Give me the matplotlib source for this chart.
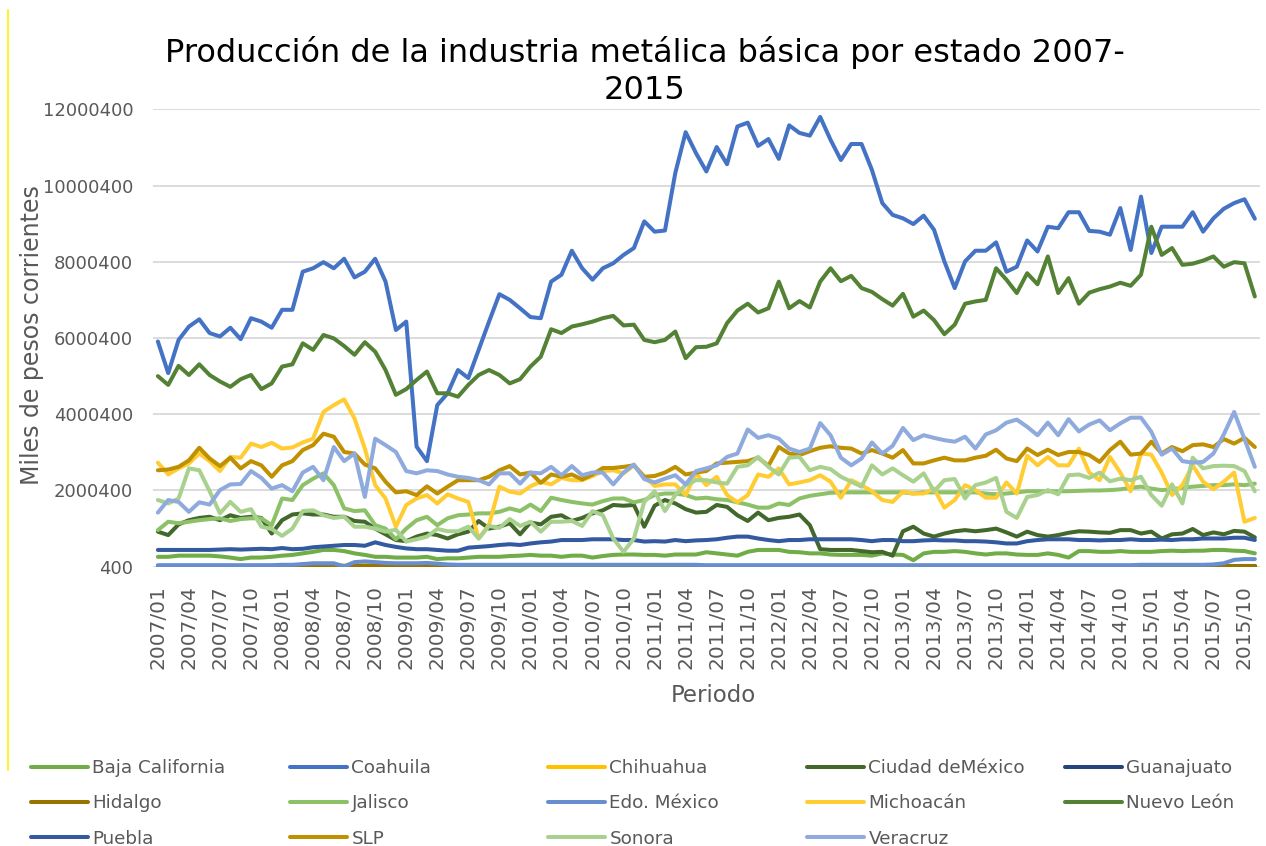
import numpy as np
import matplotlib
matplotlib.use("Agg")
import matplotlib.pyplot as plt
from matplotlib.lines import Line2D

# periods 2007/01 .. 2015/11 (107 months)
periodos = ["%d/%02d" % (2007 + k // 12, k % 12 + 1) for k in range(107)]

# values in millions of "miles de pesos corrientes"
baja_california = [
    0.26, 0.26, 0.29, 0.29, 0.29, 0.29, 0.27, 0.24, 0.20, 0.24, 0.24, 0.26, 0.29, 0.31, 0.35, 0.39, 0.44, 0.44, 0.41, 0.35, 0.31, 0.26, 0.26, 0.24, 0.24, 0.24, 0.26,
    0.20, 0.22, 0.22, 0.24, 0.26, 0.26, 0.26, 0.28, 0.29, 0.31, 0.29, 0.29, 0.26, 0.29, 0.29, 0.24, 0.28, 0.31, 0.32, 0.32, 0.31, 0.31, 0.29, 0.32, 0.32, 0.32,
    0.38, 0.35, 0.32, 0.29, 0.39, 0.44, 0.44, 0.44, 0.39, 0.38, 0.35, 0.35, 0.32, 0.31, 0.31, 0.31, 0.29, 0.35, 0.32, 0.31, 0.17, 0.35, 0.39, 0.39, 0.41, 0.39, 0.35,
    0.32, 0.35, 0.35, 0.32, 0.31, 0.31, 0.35, 0.31, 0.24, 0.41, 0.41, 0.39, 0.39, 0.41, 0.39, 0.39, 0.39, 0.41, 0.42, 0.41, 0.42, 0.42, 0.44, 0.44, 0.42, 0.41, 0.35]
coahuila = [
    5.91, 5.08, 5.95, 6.30, 6.49, 6.13, 6.04, 6.27, 5.97, 6.52, 6.43, 6.27, 6.74, 6.74, 7.74, 7.83, 7.99, 7.83, 8.08, 7.59, 7.74, 8.08, 7.48, 6.21, 6.43, 3.15, 2.77,
    4.24, 4.55, 5.16, 4.95, 5.69, 6.43, 7.15, 7.00, 6.78, 6.55, 6.52, 7.48, 7.66, 8.29, 7.83, 7.53, 7.83, 7.96, 8.18, 8.36, 9.06, 8.79, 8.82, 10.33, 11.40, 10.85,
    10.37, 11.01, 10.56, 11.55, 11.65, 11.04, 11.22, 10.70, 11.58, 11.38, 11.31, 11.80, 11.20, 10.67, 11.09, 11.09, 10.41, 9.54, 9.23, 9.14, 8.99, 9.21, 8.84, 8.01, 7.31, 8.01, 8.29, 8.29,
    8.51, 7.74, 7.87, 8.56, 8.27, 8.92, 8.88, 9.30, 9.30, 8.81, 8.79, 8.71, 9.41, 8.31, 9.71, 8.23, 8.92, 8.92, 8.92, 9.30, 8.79, 9.14, 9.39, 9.54, 9.64, 9.13]
chihuahua = [
    0.01, 0.01, 0.01, 0.01, 0.01, 0.01, 0.01, 0.01, 0.01, 0.01, 0.01, 0.01, 0.02, 0.02, 0.03, 0.03, 0.04, 0.04, 0.03, 0.04, 0.04, 0.05, 0.04, 0.04, 0.04, 0.04, 0.04,
    0.03, 0.03, 0.02, 0.02, 0.01, 0.01, 0.01, 0.01, 0.01, 0.01, 0.01, 0.01, 0.01, 0.01, 0.01, 0.01, 0.01, 0.01, 0.01, 0.01, 0.01, 0.01, 0.01, 0.01, 0.01, 0.01,
    0.01, 0.01, 0.01, 0.01, 0.01, 0.01, 0.01, 0.01, 0.01, 0.01, 0.01, 0.01, 0.01, 0.01, 0.01, 0.01, 0.01, 0.01, 0.01, 0.01, 0.01, 0.01, 0.01, 0.01, 0.01, 0.01, 0.01,
    0.01, 0.01, 0.01, 0.01, 0.01, 0.01, 0.01, 0.01, 0.01, 0.01, 0.01, 0.01, 0.01, 0.01, 0.01, np.nan, np.nan, np.nan, np.nan, np.nan, np.nan, np.nan, np.nan, np.nan, np.nan, np.nan, np.nan]
ciudad_mexico = [
    0.92, 0.83, 1.11, 1.22, 1.28, 1.31, 1.22, 1.35, 1.28, 1.31, 1.28, 0.87, 1.22, 1.37, 1.40, 1.37, 1.37, 1.31, 1.31, 1.20, 1.18, 1.00, 0.85, 0.70, 0.67, 0.79, 0.87,
    0.83, 0.74, 0.85, 0.92, 1.20, 1.00, 1.05, 1.14, 0.85, 1.16, 1.11, 1.31, 1.35, 1.20, 1.28, 1.40, 1.48, 1.62, 1.60, 1.62, 1.05, 1.60, 1.75, 1.66, 1.51, 1.42,
    1.44, 1.62, 1.57, 1.35, 1.20, 1.42, 1.22, 1.28, 1.31, 1.37, 1.09, 0.46, 0.44, 0.44, 0.44, 0.41, 0.38, 0.39, 0.29, 0.93, 1.05, 0.87, 0.79, 0.87, 0.93, 0.96, 0.93,
    0.96, 1.00, 0.90, 0.79, 0.92, 0.83, 0.79, 0.83, 0.89, 0.93, 0.92, 0.90, 0.89, 0.96, 0.96, 0.87, 0.92, 0.74, 0.85, 0.87, 0.99, 0.83, 0.90, 0.85, 0.94, 0.92, 0.77]
guanajuato = [
    0.02, 0.02, 0.02, 0.02, 0.02, 0.02, 0.02, 0.02, 0.02, 0.02, 0.02, 0.02, 0.02, 0.02, 0.02, 0.02, 0.02, 0.02, 0.02, 0.02, 0.02, 0.02, 0.02, 0.02, 0.02, 0.02, 0.02,
    0.02, 0.02, 0.02, 0.02, 0.02, 0.02, 0.02, 0.02, 0.02, 0.02, 0.02, 0.02, 0.02, 0.02, 0.02, 0.02, 0.02, 0.02, 0.02, 0.02, 0.02, 0.02, 0.02, 0.02, 0.02, 0.02,
    0.02, 0.02, 0.02, 0.02, 0.02, 0.02, 0.02, 0.02, 0.02, 0.02, 0.02, 0.02, 0.02, 0.02, 0.02, 0.02, 0.02, 0.02, 0.02, 0.02, 0.02, 0.02, 0.02, 0.02, 0.02, 0.02, 0.02,
    0.02, 0.02, 0.02, 0.02, 0.02, 0.02, 0.02, 0.02, 0.02, 0.02, 0.02, 0.02, 0.02, 0.02, 0.02, 0.02, 0.02, 0.02, 0.02, 0.02, 0.02, 0.02, 0.02, 0.02, 0.02, 0.02, 0.02]
hidalgo = [
    0.01, 0.01, 0.01, 0.01, 0.01, 0.01, 0.01, 0.01, 0.01, 0.01, 0.01, 0.01, 0.01, 0.01, 0.01, 0.01, 0.01, 0.01, 0.01, 0.01, 0.01, 0.01, 0.01, 0.01, 0.01, 0.01, 0.01,
    0.01, 0.01, 0.01, 0.01, 0.01, 0.01, 0.01, 0.01, 0.01, 0.01, 0.01, 0.01, 0.01, 0.01, 0.01, 0.01, 0.01, 0.01, 0.01, 0.01, 0.01, 0.01, 0.01, 0.01, 0.01, 0.01,
    0.01, 0.01, 0.01, 0.01, 0.01, 0.01, 0.01, 0.01, 0.01, 0.01, 0.01, 0.01, 0.01, 0.01, 0.01, 0.01, 0.01, 0.01, 0.01, 0.01, 0.01, 0.01, 0.01, 0.01, 0.01, 0.01, 0.01,
    0.01, 0.01, 0.01, 0.01, 0.01, 0.01, 0.01, 0.01, 0.01, 0.01, 0.01, 0.01, 0.01, 0.01, 0.01, 0.01, 0.01, 0.01, 0.01, 0.01, 0.01, 0.01, 0.01, 0.01, 0.01, 0.01, 0.01]
jalisco = [
    0.96, 1.18, 1.14, 1.18, 1.22, 1.25, 1.27, 1.20, 1.25, 1.27, 1.27, 1.09, 1.79, 1.75, 2.14, 2.31, 2.45, 2.14, 1.53, 1.46, 1.48, 1.09, 1.00, 0.72, 1.00, 1.22, 1.31,
    1.09, 1.27, 1.35, 1.37, 1.40, 1.40, 1.44, 1.53, 1.46, 1.63, 1.46, 1.81, 1.75, 1.70, 1.66, 1.63, 1.72, 1.79, 1.79, 1.69, 1.75, 1.88, 1.92, 1.92, 1.88, 1.79,
    1.81, 1.77, 1.75, 1.69, 1.63, 1.55, 1.55, 1.66, 1.62, 1.79, 1.86, 1.90, 1.94, 1.95, 1.95, 1.95, 1.95, 1.95, 1.95, 1.95, 1.92, 1.95, 1.95, 1.95, 1.95, 1.95, 1.95,
    1.92, 1.90, 1.92, 1.95, 1.98, 1.98, 1.98, 1.98, 1.98, 1.99, 2.00, 2.00, 2.01, 2.03, 2.07, 2.10, 2.05, 2.01, 2.03, 2.07, 2.10, 2.12, 2.14, 2.14, 2.16, 2.14, 2.18]
edo_mexico = [
    0.04, 0.04, 0.04, 0.04, 0.04, 0.04, 0.04, 0.04, 0.04, 0.04, 0.04, 0.04, 0.05, 0.05, 0.07, 0.09, 0.09, 0.09, 0.01, 0.12, 0.14, 0.12, 0.10, 0.09, 0.09, 0.09, 0.10,
    0.08, 0.06, 0.05, 0.05, 0.05, 0.05, 0.05, 0.05, 0.05, 0.05, 0.05, 0.05, 0.05, 0.05, 0.05, 0.05, 0.05, 0.05, 0.05, 0.05, 0.05, 0.05, 0.05, 0.05, 0.05, 0.05,
    0.04, 0.04, 0.04, 0.04, 0.04, 0.04, 0.04, 0.04, 0.04, 0.04, 0.04, 0.04, 0.04, 0.04, 0.04, 0.04, 0.04, 0.04, 0.04, 0.04, 0.04, 0.04, 0.04, 0.04, 0.04, 0.04, 0.04,
    0.04, 0.04, 0.04, 0.04, 0.04, 0.04, 0.04, 0.04, 0.04, 0.04, 0.04, 0.04, 0.04, 0.04, 0.04, 0.05, 0.05, 0.05, 0.05, 0.05, 0.05, 0.05, 0.06, 0.09, 0.18, 0.20, 0.20]
michoacan = [
    2.73, 2.42, 2.58, 2.71, 2.97, 2.77, 2.51, 2.88, 2.86, 3.23, 3.14, 3.25, 3.10, 3.13, 3.26, 3.36, 4.06, 4.24, 4.39, 3.89, 3.10, 2.14, 1.79, 1.05, 1.62, 1.79, 1.88,
    1.66, 1.90, 1.79, 1.70, 0.74, 1.10, 2.10, 1.97, 1.92, 2.11, 2.23, 2.16, 2.33, 2.27, 2.27, 2.38, 2.51, 2.53, 2.45, 2.66, 2.36, 2.12, 2.16, 2.16, 1.88, 2.45,
    2.14, 2.36, 1.88, 1.69, 1.88, 2.42, 2.36, 2.58, 2.16, 2.21, 2.27, 2.40, 2.23, 1.81, 2.27, 2.14, 1.98, 1.75, 1.70, 1.97, 1.92, 1.92, 2.05, 1.55, 1.75, 2.14, 2.01,
    1.81, 1.81, 2.21, 1.92, 2.91, 2.66, 2.88, 2.66, 2.66, 3.10, 2.47, 2.27, 2.88, 2.47, 1.98, 2.97, 2.94, 2.47, 1.88, 2.14, 2.66, 2.23, 2.03, 2.23, 2.47, 1.18, 1.28]
nuevo_leon = [
    5.00, 4.77, 5.27, 5.03, 5.31, 5.03, 4.86, 4.72, 4.92, 5.03, 4.66, 4.81, 5.25, 5.31, 5.86, 5.69, 6.08, 5.99, 5.79, 5.56, 5.89, 5.64, 5.16, 4.51, 4.66, 4.90, 5.12,
    4.55, 4.55, 4.46, 4.77, 5.03, 5.16, 5.03, 4.81, 4.92, 5.25, 5.51, 6.23, 6.13, 6.30, 6.36, 6.43, 6.52, 6.58, 6.33, 6.35, 5.95, 5.89, 5.95, 6.17, 5.47, 5.76,
    5.77, 5.86, 6.39, 6.72, 6.90, 6.67, 6.78, 7.48, 6.78, 6.97, 6.80, 7.48, 7.83, 7.49, 7.63, 7.31, 7.21, 7.02, 6.85, 7.16, 6.56, 6.72, 6.47, 6.10, 6.35, 6.90, 6.96, 7.00,
    7.83, 7.53, 7.18, 7.70, 7.41, 8.14, 7.18, 7.57, 6.90, 7.19, 7.28, 7.35, 7.45, 7.37, 7.66, 8.92, 8.18, 8.36, 7.92, 7.95, 8.03, 8.14, 7.87, 7.99, 7.96, 7.09]
puebla = [
    0.44, 0.44, 0.44, 0.44, 0.44, 0.44, 0.45, 0.46, 0.45, 0.46, 0.47, 0.46, 0.49, 0.46, 0.47, 0.51, 0.53, 0.55, 0.57, 0.57, 0.55, 0.64, 0.57, 0.52, 0.48, 0.46, 0.46,
    0.44, 0.42, 0.42, 0.50, 0.52, 0.54, 0.57, 0.59, 0.57, 0.61, 0.64, 0.66, 0.70, 0.70, 0.70, 0.72, 0.72, 0.72, 0.70, 0.70, 0.66, 0.67, 0.66, 0.70, 0.67, 0.69,
    0.70, 0.72, 0.76, 0.79, 0.79, 0.74, 0.70, 0.67, 0.70, 0.70, 0.72, 0.72, 0.72, 0.72, 0.72, 0.70, 0.67, 0.70, 0.70, 0.67, 0.67, 0.69, 0.70, 0.69, 0.69, 0.67, 0.67,
    0.66, 0.64, 0.61, 0.61, 0.67, 0.70, 0.72, 0.72, 0.72, 0.70, 0.70, 0.69, 0.70, 0.70, 0.72, 0.70, 0.70, 0.71, 0.70, 0.72, 0.72, 0.74, 0.74, 0.74, 0.76, 0.76, 0.70]
slp = [
    2.53, 2.55, 2.62, 2.79, 3.12, 2.84, 2.64, 2.86, 2.58, 2.77, 2.66, 2.36, 2.66, 2.77, 3.06, 3.19, 3.49, 3.41, 3.01, 2.97, 2.68, 2.58, 2.23, 1.95, 1.98, 1.88, 2.11,
    1.92, 2.10, 2.27, 2.27, 2.27, 2.36, 2.53, 2.64, 2.42, 2.47, 2.20, 2.42, 2.36, 2.42, 2.29, 2.42, 2.59, 2.59, 2.62, 2.66, 2.36, 2.38, 2.47, 2.62, 2.42, 2.47,
    2.51, 2.71, 2.73, 2.75, 2.77, 2.86, 2.65, 3.14, 2.97, 2.93, 3.03, 3.12, 3.16, 3.12, 3.10, 2.97, 3.06, 2.97, 2.86, 3.06, 2.71, 2.71, 2.79, 2.86, 2.79, 2.79, 2.86,
    2.91, 3.07, 2.84, 2.77, 3.10, 2.93, 3.07, 2.93, 3.01, 3.01, 2.93, 2.75, 3.06, 3.28, 2.94, 2.97, 3.28, 2.97, 3.14, 3.03, 3.19, 3.21, 3.14, 3.35, 3.23, 3.38, 3.14]
sonora = [
    1.75, 1.66, 1.79, 2.58, 2.53, 1.98, 1.40, 1.70, 1.44, 1.51, 1.05, 0.99, 0.81, 1.00, 1.46, 1.48, 1.35, 1.28, 1.31, 1.05, 1.05, 1.00, 0.92, 0.97, 0.66, 0.72, 0.79,
    0.99, 0.93, 0.93, 1.05, 0.74, 1.07, 1.02, 1.25, 1.07, 1.18, 0.92, 1.18, 1.18, 1.20, 1.07, 1.46, 1.35, 0.74, 0.39, 0.74, 1.70, 1.98, 1.46, 1.88, 2.14, 2.27,
    2.27, 2.21, 2.18, 2.62, 2.66, 2.88, 2.62, 2.42, 2.86, 2.88, 2.53, 2.62, 2.56, 2.36, 2.23, 2.10, 2.66, 2.42, 2.58, 2.40, 2.23, 2.45, 1.98, 2.27, 2.30, 1.79, 2.14,
    2.21, 2.33, 1.44, 1.28, 1.83, 1.88, 2.01, 1.90, 2.40, 2.42, 2.33, 2.47, 2.24, 2.31, 2.27, 2.36, 1.88, 1.60, 2.16, 1.66, 2.86, 2.58, 2.64, 2.65, 2.64, 2.51, 1.98]
veracruz = [
    1.42, 1.75, 1.70, 1.44, 1.69, 1.63, 2.01, 2.16, 2.17, 2.51, 2.33, 2.05, 2.14, 1.98, 2.47, 2.62, 2.27, 3.14, 2.77, 2.97, 1.83, 3.36, 3.19, 3.01, 2.51, 2.45, 2.53,
    2.51, 2.42, 2.36, 2.33, 2.27, 2.16, 2.45, 2.45, 2.18, 2.47, 2.45, 2.62, 2.40, 2.64, 2.40, 2.47, 2.47, 2.16, 2.47, 2.68, 2.30, 2.21, 2.31, 2.40, 2.16, 2.51,
    2.58, 2.66, 2.88, 2.97, 3.60, 3.38, 3.45, 3.36, 3.10, 3.01, 3.10, 3.77, 3.45, 2.86, 2.66, 2.84, 3.26, 2.97, 3.17, 3.64, 3.32, 3.45, 3.38, 3.32, 3.28, 3.41, 3.10,
    3.47, 3.58, 3.78, 3.86, 3.67, 3.45, 3.78, 3.45, 3.87, 3.55, 3.73, 3.84, 3.58, 3.76, 3.91, 3.91, 3.54, 2.94, 3.10, 2.77, 2.73, 2.75, 2.97, 3.47, 4.06, 3.35, 2.62]

estados = ["Baja California", "Coahuila", "Chihuahua", "Ciudad deMéxico", "Guanajuato",
           "Hidalgo", "Jalisco", "Edo. México", "Michoacán", "Nuevo León",
           "Puebla", "SLP", "Sonora", "Veracruz"]
series = [baja_california, coahuila, chihuahua, ciudad_mexico, guanajuato,
          hidalgo, jalisco, edo_mexico, michoacan, nuevo_leon,
          puebla, slp, sonora, veracruz]
colores = ["#70AD47", "#4472C4", "#FFC000", "#43682B", "#264478",
           "#997300", "#8CC168", "#698ED0", "#FFCD33", "#548235",
           "#335AA1", "#BF9000", "#A9D18E", "#8FAADC"]

gray = "#595959"
W, H = 1266, 846
fig = plt.figure(figsize=(W / 100, H / 100), dpi=100)
ax = fig.add_axes([152.7 / W, 1 - 566.7 / H, (1260 - 152.7) / W, (566.7 - 109.3) / H])

x = np.arange(len(periodos))
handles = []
for i, (name, vals, c) in enumerate(zip(estados, series, colores)):
    ln, = ax.plot(x, np.array(vals) * 1e6, color=c, lw=2.9, label=name, zorder=3 + i,
                  solid_joinstyle="round", solid_capstyle="round")
    handles.append(ln)

ax.set_xlim(-0.5, len(periodos) - 0.5)
ax.set_ylim(400, 12000400)
yt = np.arange(400, 12000401, 2000000)
ax.set_yticks(yt)
ax.set_yticklabels([str(v) for v in yt])
ax.set_xticks(x[::3])
ax.set_xticklabels(periodos[::3], rotation=90)
ax.tick_params(axis="y", length=0, pad=14, labelsize=13, labelcolor=gray)
ax.tick_params(axis="x", length=0, pad=13, labelsize=14.5, labelcolor=gray)
ax.grid(axis="y", color="#D9D9D9", lw=1.3)
ax.set_axisbelow(True)
for s in ax.spines.values():
    s.set_visible(False)

fig.text(645 / W, 1 - 71 / H, "Producción de la industria metálica básica por estado 2007-\n2015",
         ha="center", va="center", fontsize=23, color="black", linespacing=1.25)
fig.text(32 / W, 1 - 335 / H, "Miles de pesos corrientes", rotation=90,
         ha="center", va="center", fontsize=17, color=gray)
fig.text(713 / W, 1 - 695 / H, "Periodo", ha="center", va="center", fontsize=16.5, color=gray)

# legend: 5 columns x 3 rows, equally spaced like the original
col_x = [31, 290, 548, 807, 1065]
for c in range(5):
    hs = handles[c::5]
    fig.legend(hs, [h.get_label() for h in hs], loc="upper left",
               bbox_to_anchor=(col_x[c] / W, 1 - 759 / H), frameon=False,
               fontsize=13.2, labelcolor=gray, handlelength=3.1, handletextpad=0.25,
               labelspacing=0.95, borderpad=0, borderaxespad=0)

# thin yellow border line at the left edge
fig.add_artist(Line2D([8 / W, 8 / W], [1 - 10 / H, 1 - 770 / H], color="#FFF200", lw=1.2))

fig.savefig("out.png", dpi=100)
